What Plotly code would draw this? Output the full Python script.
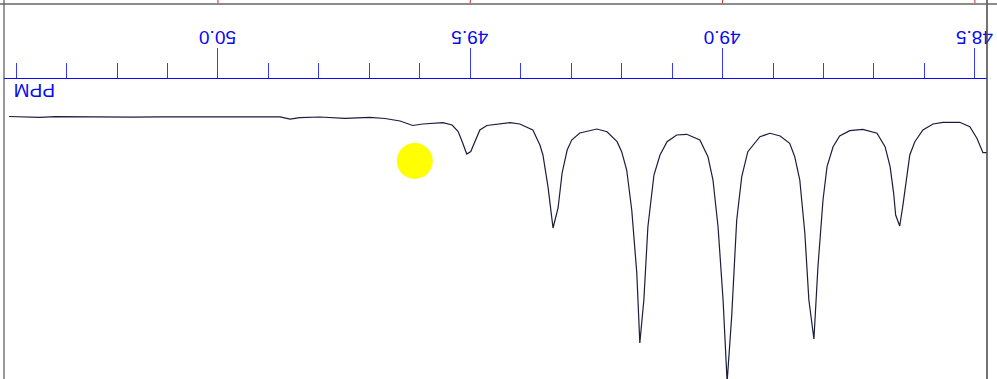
import plotly.graph_objects as go

# Spectrum data (chemical shift in ppm, relative intensity)
ppm = [50.414, 50.373, 50.353, 50.323, 50.267, 50.234, 50.168, 50.115, 50.055, 49.976,
       49.917, 49.877, 49.857, 49.838, 49.798, 49.748, 49.699, 49.669, 49.639, 49.614,
       49.594, 49.554, 49.536, 49.524, 49.515, 49.507, 49.499, 49.491, 49.481, 49.467,
       49.447, 49.421, 49.402, 49.376, 49.362, 49.356, 49.346, 49.336, 49.326, 49.318,
       49.308, 49.299, 49.283, 49.249, 49.229, 49.209, 49.200, 49.190, 49.180, 49.170,
       49.164, 49.156, 49.148, 49.136, 49.124, 49.110, 49.091, 49.071, 49.045, 49.029,
       49.019, 49.009, 48.999, 48.991, 48.982, 48.972, 48.962, 48.950, 48.926, 48.906,
       48.886, 48.867, 48.857, 48.847, 48.837, 48.829, 48.819, 48.811, 48.801, 48.793,
       48.781, 48.768, 48.748, 48.722, 48.694, 48.678, 48.668, 48.661, 48.657, 48.649,
       48.643, 48.635, 48.629, 48.619, 48.603, 48.583, 48.563, 48.530, 48.510, 48.496,
       48.484, 48.476]
intensity = [0.19, 0.31, 0.50, 0.27, 0.38, 0.23, 0.46, 0.31, 0.27, 0.27,
             0.19, 0.35, 1.23, 0.62, 0.38, 0.88, 0.54, 0.96, 1.92, 3.65,
             3.08, 2.58, 3.46, 5.96, 10.38, 14.62, 13.65, 9.81, 5.38, 3.65,
             3.08, 2.58, 3.08, 5.38, 11.15, 15.00, 27.19, 43.08, 35.38, 21.92,
             13.08, 9.23, 6.54, 5.00, 6.04, 9.88, 13.73, 20.77, 36.15, 60.38,
             87.31, 70.77, 42.58, 22.69, 15.00, 9.88, 7.31, 7.04, 9.23, 15.65,
             24.62, 42.58, 70.77, 102.31, 77.19, 40.00, 23.35, 13.73, 7.96, 6.65,
             7.69, 10.50, 15.65, 24.62, 45.00, 70.77, 85.77, 57.96, 32.31, 19.50,
             11.81, 7.69, 5.65, 5.12, 6.65, 11.81, 19.50, 29.73, 38.08, 42.31,
             34.88, 23.35, 15.00, 9.88, 5.38, 3.08, 2.42, 2.42, 4.12, 8.58,
             14.12, 14.12]

# Highlighted point
marker_ppm = [49.610]
marker_intensity = [17.3]

# Axis ticks
major_ticks = [50.0, 49.5, 49.0, 48.5]
tick_labels = ["50.0", "49.5", "49.0", "48.5"]
axis_title = "PPM"

x_range = [50.424, 48.476]
y_range = [101.15, -14.23]

BLUE = "#0a0aee"
TICKBLUE = "#3a3af5"

fig = go.Figure()
fig.add_trace(go.Scatter(x=ppm, y=intensity, mode="lines",
                         line=dict(color="#1c1c3c", width=1.2),
                         hoverinfo="skip", showlegend=False))
fig.add_trace(go.Scatter(x=marker_ppm, y=marker_intensity, mode="markers",
                         marker=dict(color="#ffff00", size=36, line=dict(width=0)),
                         hoverinfo="skip", showlegend=False))

shapes = []
# frame borders
shapes.append(dict(type="line", xref="paper", yref="paper", x0=0, x1=0, y0=0, y1=1.27,
                   line=dict(color="#333333", width=1)))
shapes.append(dict(type="line", xref="paper", yref="paper", x0=1, x1=1, y0=0, y1=1.27,
                   line=dict(color="#444444", width=1.5)))
# grey top line
shapes.append(dict(type="line", xref="paper", yref="paper", x0=-0.01, x1=1.02, y0=1.25, y1=1.25,
                   line=dict(color="#666666", width=1.5)))
# red marks above the top line at major ticks
for t in major_ticks:
    shapes.append(dict(type="line", xref="x", yref="paper", x0=t, x1=t, y0=1.253, y1=1.27,
                       line=dict(color="#e02020", width=1)))

fig.update_layout(
    width=997, height=379,
    margin=dict(l=4, r=10, t=79, b=0, autoexpand=False),
    paper_bgcolor="white", plot_bgcolor="white",
    shapes=shapes,
    xaxis=dict(range=x_range, side="top", showgrid=False, zeroline=False,
               showline=True, linecolor=BLUE, linewidth=1, automargin=False,
               tickmode="array", tickvals=major_ticks, ticktext=tick_labels,
               ticks="outside", ticklen=30, tickcolor=TICKBLUE, tickwidth=1,
               tickangle=180, ticklabelstandoff=-10, ticklabelshift=-18,
               tickfont=dict(family="Liberation Sans", size=19, color=BLUE),
               minor=dict(dtick=0.1, tick0=50.0, ticks="outside", ticklen=15,
                          tickcolor=TICKBLUE, tickwidth=1, showgrid=False)),
    yaxis=dict(range=y_range, visible=False, showgrid=False, zeroline=False),
    annotations=[dict(text=axis_title, xref="paper", yref="paper",
                      x=0.0305, y=0.96, xanchor="center", yanchor="middle",
                      textangle=180, showarrow=False,
                      font=dict(family="Liberation Sans", size=19, color=BLUE))],
)

fig.write_html("out.html", config={"displayModeBar": False, "staticPlot": True},
               post_script="document.body.style.margin='0';")
